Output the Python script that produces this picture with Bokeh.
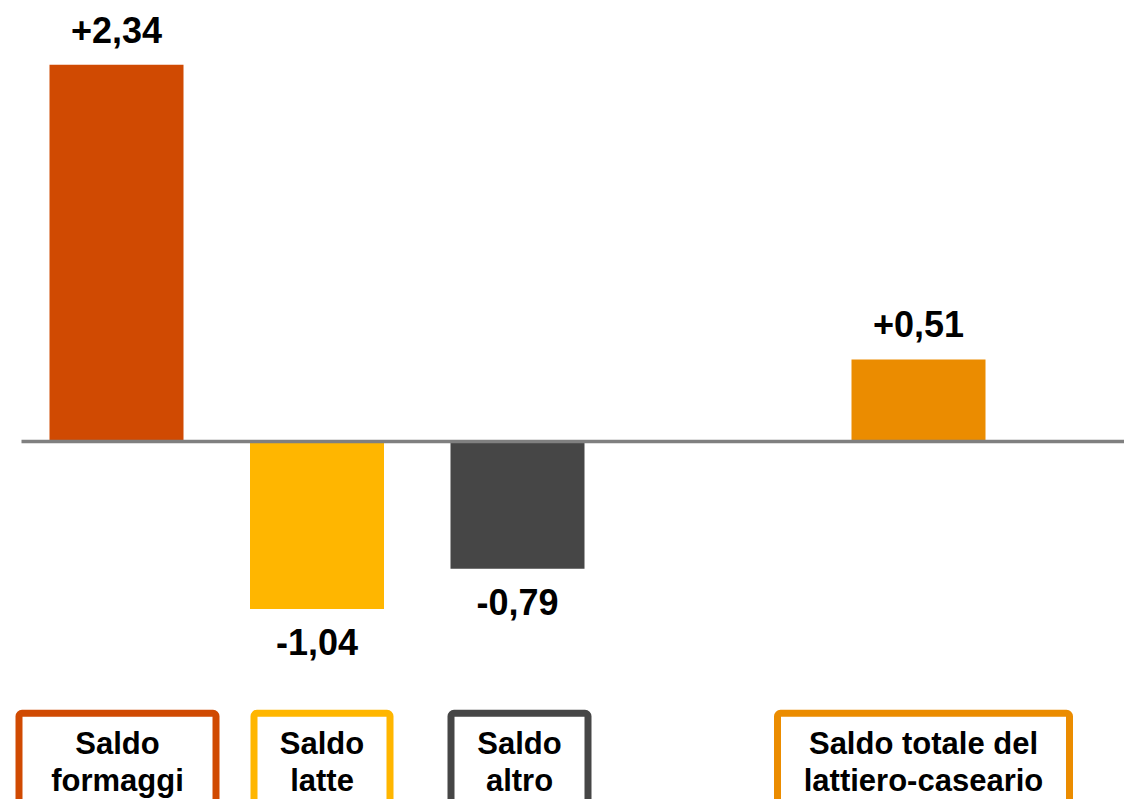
from bokeh.plotting import figure
from bokeh.models import Range1d, ColumnDataSource
from bokeh.core.properties import value
from bokeh.embed import file_html
from bokeh.resources import INLINE

# ---- data ----
categories = ["Saldo\nformaggi", "Saldo\nlatte", "Saldo\naltro", "Saldo totale del\nlattiero-caseario"]
values = [2.34, -1.04, -0.79, 0.51]
slots = [0, 1, 2, 4]
colors = ["#D04A02", "#FFB600", "#464646", "#EB8C00"]

# ---- layout (pixels) ----
W, H = 1124, 799
PX_PER_X = 200.5
PX_PER_Y = 161.0
X0_PX = 116      # frame px of the first slot centre
Y0_PX = 441      # frame px of the zero line
box_widths_px = [197, 136, 137, 292]
box_shift_px = [1, 5, 2, 5]
BOX_BORDER = 7
BOX_TOP_PX = 709.3   # outer top edge of label boxes (frame px)

FONT = value("Liberation Sans")

def px_to_y(py):
    return (Y0_PX - py) / PX_PER_Y

p = figure(width=W, height=H, output_backend="svg", toolbar_location=None,
           x_range=Range1d(-X0_PX / PX_PER_X, (W - X0_PX) / PX_PER_X),
           y_range=Range1d(-(H - Y0_PX) / PX_PER_Y, Y0_PX / PX_PER_Y),
           min_border=0, outline_line_color=None,
           background_fill_color="white", border_fill_color="white")
p.axis.visible = False
p.grid.visible = False

# bars
src = ColumnDataSource(dict(x=slots, top=values, color=colors))
p.vbar(x="x", top="top", bottom=0, width=134 / PX_PER_X, fill_color="color",
       line_color=None, source=src)

# zero line
p.segment(x0=[slots[0] - 95 / PX_PER_X], y0=[0], x1=[(W - X0_PX) / PX_PER_X + 1], y1=[0],
          line_color="#808080", line_width=3.5)

# value labels
labels = [f"{v:+.2f}".replace(".", ",") for v in values]
offsets = [-35 if v >= 0 else 33 for v in values]
p.text(x=slots, y=values, text=labels, y_offset=offsets,
       text_font=FONT, text_font_style="bold", text_font_size="36px",
       text_align="center", text_baseline="alphabetic", text_color="black")

# category boxes
box_x = [s + d / PX_PER_X for s, d in zip(slots, box_shift_px)]
box_top = px_to_y(BOX_TOP_PX + BOX_BORDER / 2)
lefts = [c - (w / 2) / PX_PER_X for c, w in zip(box_x, box_widths_px)]
rights = [c + (w / 2) / PX_PER_X for c, w in zip(box_x, box_widths_px)]
p.quad(left=lefts, right=rights, top=[box_top] * 4, bottom=[box_top - 3] * 4,
       fill_color="white", line_color=colors, line_width=BOX_BORDER,
       border_radius=3)

line1 = [c.split("\n")[0] for c in categories]
line2 = [c.split("\n")[1] for c in categories]
outer_top = px_to_y(BOX_TOP_PX)
for txt, off in ((line1, 34), (line2, 71)):
    p.text(x=box_x, y=[outer_top] * 4, text=txt, y_offset=off,
           text_font=FONT, text_font_style="bold", text_font_size="31px",
           text_align="center", text_baseline="alphabetic", text_color="black")

open("out.html", "w").write(file_html(p, INLINE))
